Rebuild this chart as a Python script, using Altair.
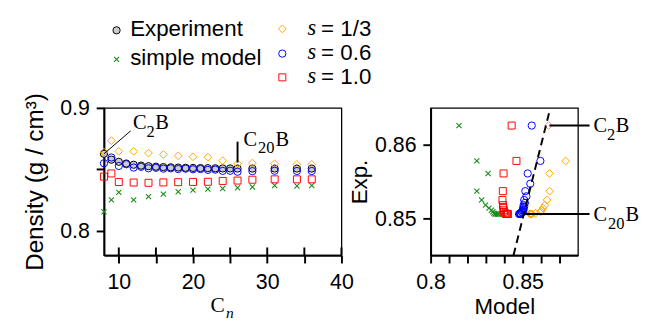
import altair as alt
import pandas as pd

# ---------------- data ----------------
cn = [8, 9, 10, 11, 12, 13, 14, 15, 16, 17, 18, 19, 20, 21, 22, 23, 24, 25, 26, 28, 31, 34, 36]
experiment = [0.8626, 0.8578, 0.8561, 0.8547, 0.8537, 0.8530, 0.8525, 0.8521, 0.8518, 0.8516,
              0.8514, 0.8512, 0.8511, 0.8510, 0.8509, 0.8508, 0.8507, 0.8507, 0.8506, 0.8506,
              0.8506, 0.8506, 0.8506]
s06 = [0.8549, 0.8596, 0.8527, 0.8541, 0.8514, 0.8520, 0.8508, 0.8512, 0.8505, 0.8508,
       0.8502, 0.8505, 0.8500, 0.8502, 0.8495, 0.8497, 0.8487, 0.8488, 0.8480, 0.8485,
       0.8488, 0.8486, 0.8486]
cn_model = [8, 9, 10, 12, 14, 16, 18, 20, 22, 24, 26, 28, 31, 34, 36]
simple = [0.8154, 0.8251, 0.8312, 0.8251, 0.8277, 0.8298, 0.8317, 0.8330, 0.8338, 0.8343,
          0.8350, 0.8356, 0.8368, 0.8364, 0.8368]
s13 = [0.8640, 0.8733, 0.8646, 0.8646, 0.8632, 0.8620, 0.8610, 0.8602, 0.8598, 0.8570,
       0.8545, 0.8550, 0.8545, 0.8540, 0.8540]
s10 = [0.8440, 0.8466, 0.8396, 0.8392, 0.8390, 0.8393, 0.8395, 0.8397, 0.8398, 0.8405,
       0.8408, 0.8415, 0.8418, 0.8418, 0.8418]

left_x_ticks = [10, 15, 20, 25, 30, 35, 40]
left_y_ticks = [0.8, 0.85, 0.9]
right_x_ticks = [0.8, 0.81, 0.82, 0.83, 0.84, 0.85, 0.86, 0.87]
right_y_ticks = [0.85, 0.86]
diag = [0.845, 0.8645]

legend_left = ["Experiment", "simple model"]
legend_right = ["= 1/3", "= 0.6", "= 1.0"]

# ---------------- frames ----------------
exp_by_n = dict(zip(cn, experiment))
df_exp = pd.DataFrame({"n": cn, "v": experiment})
df_s06 = pd.DataFrame({"n": cn, "v": s06, "e": experiment})
df_simple = pd.DataFrame({"n": cn_model, "v": simple, "e": [exp_by_n[k] for k in cn_model]})
df_s13 = pd.DataFrame({"n": cn_model, "v": s13, "e": [exp_by_n[k] for k in cn_model]})
df_s10 = pd.DataFrame({"n": cn_model, "v": s10, "e": [exp_by_n[k] for k in cn_model]})
df_diag = pd.DataFrame({"v": diag, "e": diag})
one = pd.DataFrame({"k": [0]})

SANS = "Liberation Sans"
SERIF = "Liberation Serif"
FS = 22
TFS = 23

LW, LH = 245, 152
RW, RH = 152, 152

XL = alt.X("n:Q", scale=alt.Scale(domain=[8, 40], nice=False, zero=False),
           axis=alt.Axis(values=left_x_ticks, title=None, labelPadding=9,
                         labelExpr="datum.value % 10 == 0 ? datum.label : ''"))
YL = alt.Y("v:Q", scale=alt.Scale(domain=[0.78, 0.9], nice=False, zero=False),
           axis=alt.Axis(values=left_y_ticks, title="Density (g / cm³)", titlePadding=13,
                         titleFontSize=25, labelPadding=7,
                         labelExpr="datum.value == 0.85 ? '' : format(datum.value, '.1f')"))
XR = alt.X("v:Q", scale=alt.Scale(domain=[0.8, 0.88], nice=False, zero=False),
           axis=alt.Axis(values=right_x_ticks, title="Model", titlePadding=4, labelPadding=9,
                         labelExpr="datum.value == 0.8 ? '0.8' : (datum.value == 0.85 ? '0.85' : '')"))
YR = alt.Y("e:Q", scale=alt.Scale(domain=[0.845, 0.865], nice=False, zero=False),
           axis=alt.Axis(values=right_y_ticks, format=".2f", title="Exp.", titlePadding=3,
                         labelPadding=7))

GREEN, ORANGE, BLUE, RED = "#1a8c1a", "#FFA500", "#0000FF", "#FF0000"
XSHAPE = "M-1,-1L1,1M-1,1L1,-1"
st_exp = dict(shape="circle", size=56, filled=True, fill="#cccccc", stroke="black", strokeWidth=1, opacity=1)
st_simple = dict(shape=XSHAPE, size=28, filled=False, color=GREEN, strokeWidth=1.1, opacity=1)
st_s13 = dict(shape="diamond", size=64, filled=False, color=ORANGE, strokeWidth=1, opacity=1)
st_s06 = dict(shape="circle", size=56, filled=False, color=BLUE, strokeWidth=1, opacity=1)
st_s10 = dict(shape="square", size=52, filled=False, color=RED, strokeWidth=1, opacity=1)


def sub_label(df, X, Y, main, sub, tail, sub_dx, tail_dx, size=21, subsize=17, dy=0):
    base = alt.Chart(df)
    kw = dict(font=SERIF, align="left", baseline="alphabetic", color="black")
    return [
        base.mark_text(text=main, fontSize=size, dy=dy, **kw).encode(x=X, y=Y),
        base.mark_text(text=sub, fontSize=subsize, dx=sub_dx, dy=dy + 8, **kw).encode(x=X, y=Y),
        base.mark_text(text=tail, fontSize=size, dx=tail_dx, dy=dy, **kw).encode(x=X, y=Y),
    ]


# ---------------- left panel ----------------
left_layers = [
    alt.Chart(df_exp).mark_point(**st_exp).encode(x=XL, y=YL),
    alt.Chart(df_simple).mark_point(**st_simple).encode(x=XL, y=YL),
    alt.Chart(df_s13).mark_point(**st_s13).encode(x=XL, y=YL),
    alt.Chart(df_s06).mark_point(**st_s06).encode(x=XL, y=YL),
    alt.Chart(df_s10).mark_point(**st_s10).encode(x=XL, y=YL),
]
# inner half of the crossing x ticks
df_xt = pd.DataFrame({"n": left_x_ticks})
left_layers.append(alt.Chart(df_xt).mark_rule(color="black", strokeWidth=2).encode(
    x=XL, y=alt.value(LH), y2=alt.value(LH - 8)))
# annotations
ann_c2 = pd.DataFrame({"n": [8], "v": [experiment[0]], "n2": [11.6], "v2": [0.8813]})
ann_c20 = pd.DataFrame({"n": [26], "v": [0.8555], "n2": [26], "v2": [0.8725]})
left_layers.append(alt.Chart(ann_c2).mark_rule(color="black", strokeWidth=1).encode(
    x=XL, y=YL, x2="n2:Q", y2="v2:Q"))
left_layers.append(alt.Chart(ann_c20).mark_rule(color="black", strokeWidth=2).encode(
    x=XL, y=YL, x2="n2:Q", y2="v2:Q"))
left_layers += sub_label(pd.DataFrame({"n": [11.9], "v": [0.8826]}), XL, YL, "C", "2", "B", 14, 23)
left_layers += sub_label(pd.DataFrame({"n": [26.8], "v": [0.8692]}), XL, YL, "C", "20", "B", 15, 33)
# x title C_n
left_layers.append(alt.Chart(one).mark_text(text="C", font=SERIF, fontSize=22, align="left",
                                            baseline="alphabetic", color="black").encode(
    x=alt.value(110), y=alt.value(211)))
left_layers.append(alt.Chart(one).mark_text(text="n", font=SERIF, fontSize=16, fontStyle="italic",
                                            align="left", baseline="alphabetic", color="black").encode(
    x=alt.value(126), y=alt.value(217)))
# legend
leg_txt = dict(font=SANS, fontSize=TFS, align="left", baseline="middle", color="black")
left_layers.append(alt.Chart(one).mark_point(**st_exp).encode(x=alt.value(13), y=alt.value(-80)))
left_layers.append(alt.Chart(one).mark_point(**st_simple).encode(x=alt.value(13), y=alt.value(-50)))
left_layers.append(alt.Chart(one).mark_text(text=legend_left[0], **leg_txt).encode(x=alt.value(27), y=alt.value(-81)))
left_layers.append(alt.Chart(one).mark_text(text=legend_left[1], **leg_txt).encode(x=alt.value(27), y=alt.value(-51)))
for st, yy, lab in zip([st_s13, st_s06, st_s10], [-81.5, -56, -31.5], legend_right):
    left_layers.append(alt.Chart(one).mark_point(**st).encode(x=alt.value(184), y=alt.value(yy)))
    left_layers.append(alt.Chart(one).mark_text(text="s", font=SERIF, fontSize=TFS, fontStyle="italic",
                                                align="left", baseline="middle", color="black").encode(
        x=alt.value(210), y=alt.value(yy - 1)))
    left_layers.append(alt.Chart(one).mark_text(text=lab, **leg_txt).encode(
        x=alt.value(224), y=alt.value(yy)))

left = alt.layer(*left_layers).properties(width=LW, height=LH)

# ---------------- right panel ----------------
right_layers = [
    alt.Chart(df_simple).mark_point(**st_simple).encode(x=XR, y=YR),
    alt.Chart(df_s13).mark_point(**st_s13).encode(x=XR, y=YR),
    alt.Chart(df_s06).mark_point(**st_s06).encode(x=XR, y=YR),
    alt.Chart(df_s10).mark_point(**st_s10).encode(x=XR, y=YR),
    alt.Chart(df_diag).mark_line(color="black", strokeWidth=2, strokeDash=[8, 5]).encode(x=XR, y=YR),
]
ann_r = pd.DataFrame({"v": [0.8645, 0.8506], "e": [experiment[0], exp_by_n[26]],
                      "v2": [0.8863, 0.8863]})
right_layers.append(alt.Chart(ann_r).mark_rule(color="black", strokeWidth=2).encode(
    x=XR, y=YR, x2="v2:Q"))
right_layers += sub_label(pd.DataFrame({"v": [0.8884], "e": [experiment[0]]}), XR, YR,
                          "C", "2", "B", 14, 23, dy=7)
right_layers += sub_label(pd.DataFrame({"v": [0.8884], "e": [exp_by_n[26]]}), XR, YR,
                          "C", "20", "B", 15, 33, dy=7)
right = alt.layer(*right_layers).properties(width=RW, height=RH)

chart = alt.hconcat(left, right, spacing=92, bounds="flush").properties(
    padding={"left": 14, "top": 3, "right": 0, "bottom": 0}
).configure_view(stroke="black", strokeWidth=1.3).configure_axis(
    grid=False, domainColor="black", domainWidth=2, tickColor="black", tickWidth=2, tickSize=8,
    labelFont=SANS, labelFontSize=FS, labelColor="black", titleFont=SANS, titleFontSize=TFS,
    titleFontWeight="normal", titleColor="black", labelOverlap=False, labelFlush=False
)

chart.save("out.html", embed_options={"renderer": "svg", "actions": False})
